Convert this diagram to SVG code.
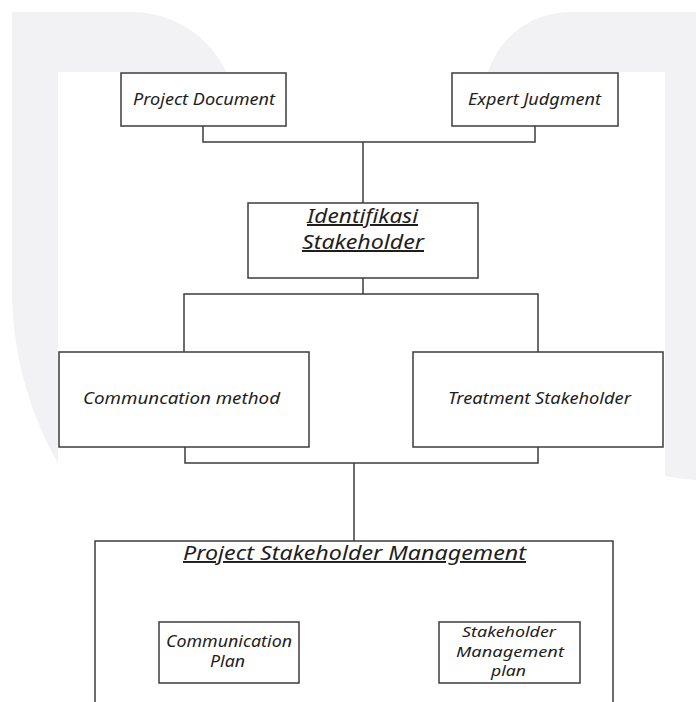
<svg xmlns="http://www.w3.org/2000/svg" width="696" height="702" viewBox="0 0 696 702">
<style>
.bg{fill:#f2f2f4}
.box{fill:#ffffff;stroke:#3c3c3c;stroke-width:1.5}
.con{fill:none;stroke:#3c3c3c;stroke-width:1.5}
text{font-family:"Noto Sans","Open Sans","Liberation Sans",sans-serif;font-style:italic;fill:#1e1e1e}
.t16{font-size:16.5px}
.t20{font-size:20px;text-decoration:underline}
.t19{font-size:19.5px;text-decoration:underline}
.t15{font-size:16px}
.t14{font-size:14px}
</style>
<rect x="0" y="0" width="696" height="702" fill="#ffffff"/>
<g id="watermark">
<path class="bg" d="M12,12 H132 A104,104 0 0 1 236,116 V560 H140 A348,348 0 0 1 12,290 Z"/>
<path class="bg" d="M696,12 H570 A86,86 0 0 0 484,98 V420 H696 Z"/>
<path class="bg" d="M600,400 H696 V480 A120,120 0 0 1 600,430 Z"/>
<rect x="58" y="72" width="607" height="630" fill="#ffffff"/>
</g>
<g id="connectors">
<path class="con" d="M203,126 V142 H535 V126"/>
<path class="con" d="M363,142 V203"/>
<path class="con" d="M363,278 V294"/>
<path class="con" d="M184,352 V294 H538 V352"/>
<path class="con" d="M185,447 V463 H538 V447"/>
<path class="con" d="M354,463 V541"/>
</g>
<g id="project-document">
<rect class="box" x="121" y="73" width="165" height="53"/>
<text class="t16" x="133" y="105" textLength="142" lengthAdjust="spacingAndGlyphs">Project Document</text>
</g>
<g id="expert-judgment">
<rect class="box" x="452" y="73" width="166" height="53"/>
<text class="t16" x="468" y="105" textLength="133" lengthAdjust="spacingAndGlyphs">Expert Judgment</text>
</g>
<g id="identifikasi-stakeholder">
<rect class="box" x="248" y="203" width="230" height="75"/>
<text class="t20" x="307" y="223" textLength="111" lengthAdjust="spacingAndGlyphs">Identifikasi</text>
<text class="t20" x="302" y="249" textLength="122" lengthAdjust="spacingAndGlyphs">Stakeholder</text>
</g>
<g id="communcation-method">
<rect class="box" x="59" y="352" width="250" height="95"/>
<text class="t16" x="83" y="404" textLength="197" lengthAdjust="spacingAndGlyphs">Communcation method</text>
</g>
<g id="treatment-stakeholder">
<rect class="box" x="413" y="352" width="250" height="95"/>
<text class="t16" x="448" y="404" textLength="183" lengthAdjust="spacingAndGlyphs">Treatment Stakeholder</text>
</g>
<g id="project-stakeholder-management">
<rect class="box" x="95" y="541" width="518" height="175"/>
<text class="t19" x="183" y="560" textLength="343" lengthAdjust="spacingAndGlyphs">Project Stakeholder Management</text>
</g>
<g id="communication-plan">
<rect class="box" x="159" y="622" width="140" height="61"/>
<text class="t15" x="166" y="647" textLength="126" lengthAdjust="spacingAndGlyphs">Communication</text>
<text class="t15" x="210" y="667" textLength="35" lengthAdjust="spacingAndGlyphs">Plan</text>
</g>
<g id="stakeholder-management-plan">
<rect class="box" x="439" y="622" width="141" height="61"/>
<text class="t14" x="462" y="637" textLength="94" lengthAdjust="spacingAndGlyphs">Stakeholder</text>
<text class="t14" x="456" y="656.5" textLength="108" lengthAdjust="spacingAndGlyphs">Management</text>
<text class="t14" x="491" y="676" textLength="35" lengthAdjust="spacingAndGlyphs">plan</text>
</g>
</svg>
